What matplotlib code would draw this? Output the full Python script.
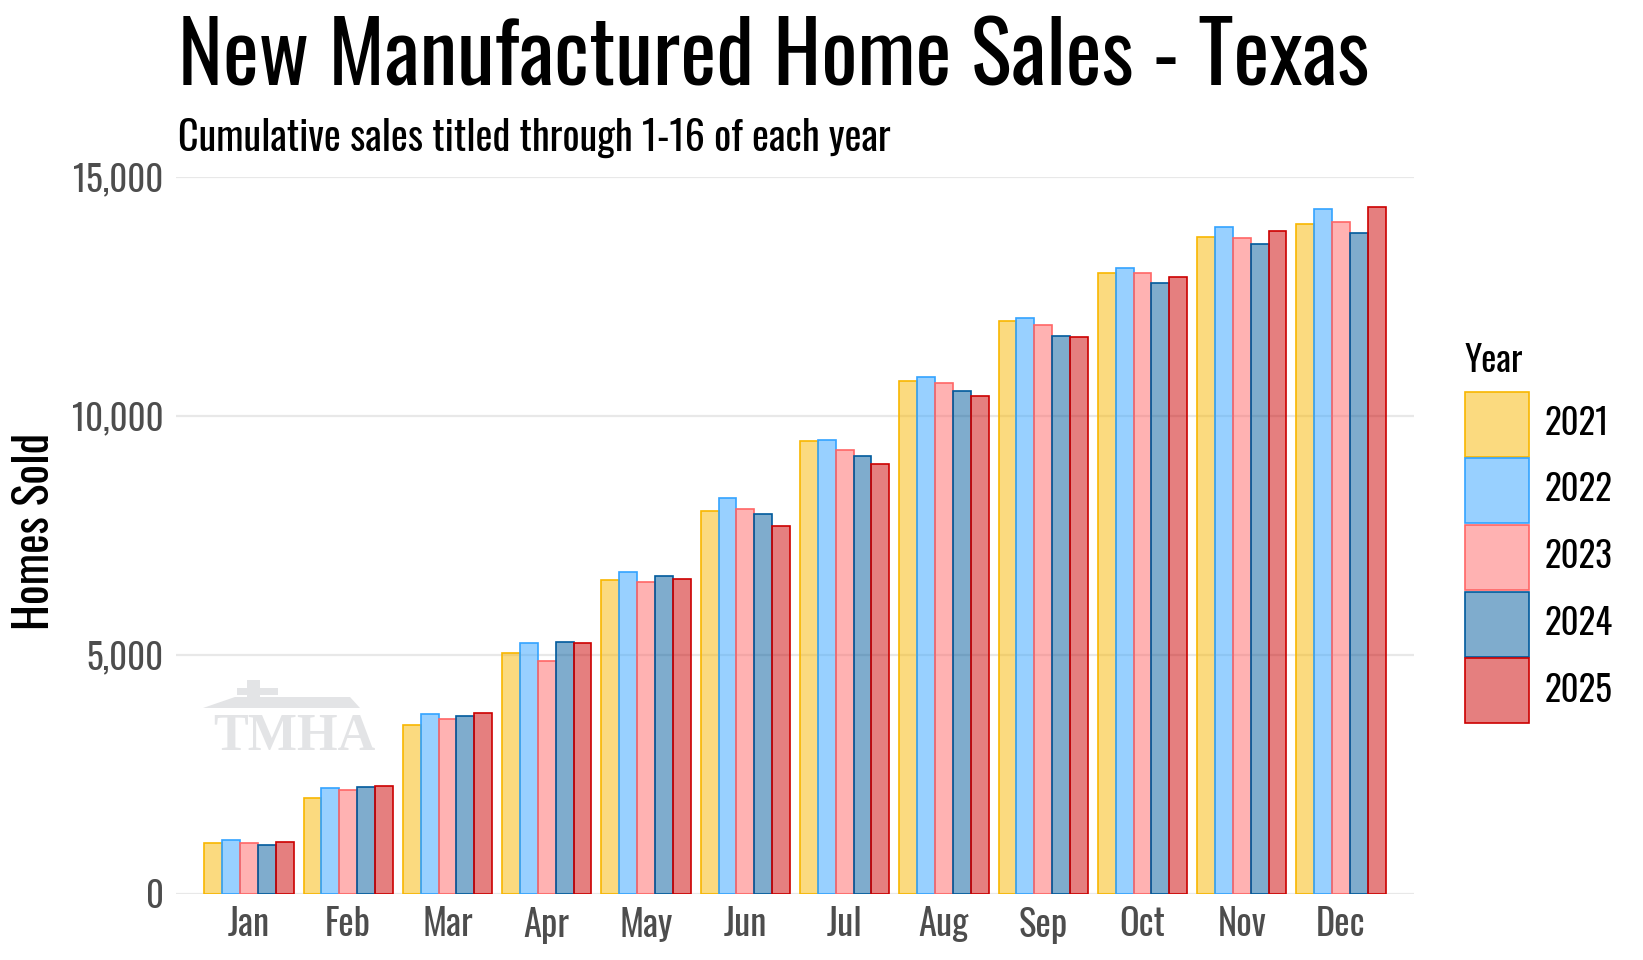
import matplotlib
matplotlib.use("Agg")
import matplotlib.pyplot as plt
import numpy as np
from matplotlib import font_manager as fm
from matplotlib.colors import to_rgba
from matplotlib.patches import Polygon
import matplotlib.transforms as mtransforms

# ---------------- data ----------------
months = ["Jan", "Feb", "Mar", "Apr", "May", "Jun",
          "Jul", "Aug", "Sep", "Oct", "Nov", "Dec"]
years = ["2021", "2022", "2023", "2024", "2025"]
sales_2021 = [1070, 2010, 3535, 5040, 6570, 8015, 9485, 10740, 11990, 13000, 13745, 14025]
sales_2022 = [1130, 2225, 3765, 5250, 6730, 8290, 9505, 10820, 12050, 13095, 13955, 14330]
sales_2023 = [1070, 2180, 3670, 4880, 6520, 8060, 9295, 10700, 11910, 13000, 13730, 14065]
sales_2024 = [1030, 2245, 3725, 5280, 6660, 7950, 9170, 10530, 11675, 12780, 13600, 13835]
sales_2025 = [1095, 2265, 3795, 5260, 6595, 7700, 9000, 10420, 11650, 12910, 13870, 14370]
series = [sales_2021, sales_2022, sales_2023, sales_2024, sales_2025]
y_ticks = [0, 5000, 10000, 15000]
y_tick_labels = ["0", "5,000", "10,000", "15,000"]

edge_colors = ["#F8B600", "#33A3FF", "#FF6666", "#005A9C", "#CC0000"]

# ---------------- fonts ----------------
available = {f.name for f in fm.fontManager.ttflist}
main_font = "DejaVu Sans"
for cand in ["Oswald", "Liberation Sans Narrow", "Roboto Condensed", "DejaVu Sans"]:
    if cand in available:
        main_font = cand
        break
serif_font = "Liberation Serif" if "Liberation Serif" in available else "DejaVu Serif"
plt.rcParams["font.family"] = [main_font, "DejaVu Sans"]

W, H = 1643, 960
fig = plt.figure(figsize=(W / 100, H / 100), dpi=100)
renderer = fig.canvas.get_renderer()

def px(x, y):
    return x / W, 1 - y / H

def fit_width(t, target):
    w = t.get_window_extent(renderer).width
    t.set_fontsize(t.get_fontsize() * target / w)

# base size measured from a tick label
probe = fig.text(0, 0, "15,000", fontsize=20)
fit_width(probe, 90)
base = probe.get_fontsize()
probe.remove()
base_px = base * 100 / 72

# ---------------- axes ----------------
left, right, top, bottom = 176, 1414, 177, 894
ax = fig.add_axes([left / W, 1 - bottom / H, (right - left) / W, (bottom - top) / H])
x = np.arange(len(months))
bw = 0.18
for i, (yr, vals, ec) in enumerate(zip(years, series, edge_colors)):
    ax.bar(x + (i - 2) * bw, vals, width=bw, facecolor=to_rgba(ec, 0.5),
           edgecolor=ec, linewidth=1.2, label=yr, zorder=3)

ax.set_xlim(-0.735, 11.735)
ax.set_ylim(0, 15000)
ax.set_yticks(y_ticks)
ax.set_yticklabels(y_tick_labels)
ax.set_xticks(x)
ax.set_xticklabels(months)
for s in ax.spines.values():
    s.set_visible(False)
ax.tick_params(axis="both", length=0, labelsize=base, labelcolor="#4D4D4D")
ax.tick_params(axis="x", labelsize=base * 1.05)
ax.tick_params(axis="y", pad=9)
ax.tick_params(axis="x", pad=9)
ax.yaxis.grid(True, color="#E8E8E8", linewidth=1.6, zorder=0)
ax.xaxis.grid(False)
ax.set_axisbelow(True)

# ---------------- titles ----------------
t = fig.text(*px(178, 85), "New Manufactured Home Sales - Texas", fontsize=60,
             ha="left", va="baseline", color="black")
fit_width(t, 1192)
st = fig.text(*px(178, 151), "Cumulative sales titled through 1-16 of each year",
              fontsize=24, ha="left", va="baseline", color="black")
fit_width(st, 712)

yl = fig.text(*px(35, 531), "Homes Sold", rotation=90, ha="center", va="center",
              fontsize=30, color="black")
h = yl.get_window_extent(renderer).height
yl.set_fontsize(yl.get_fontsize() * 197 / h)

# ---------------- legend ----------------
key_h = 65
hh = (key_h / base_px - 0.245) / 0.65
leg = fig.legend(loc="upper left", bbox_to_anchor=px(1465, 343), frameon=False,
                 fontsize=base, title="Year", title_fontsize=base * 1.03,
                 handlelength=64 / base_px, handleheight=hh,
                 labelspacing=0.05, handletextpad=0.45, borderpad=0, borderaxespad=0,
                 alignment="left")
leg._legend_box.sep = 9

# ---------------- watermark ----------------
wm = fig.text(*px(213, 750), "TMHA", fontfamily=serif_font, fontweight="bold",
              color="#E3E4E6", ha="left", va="baseline", fontsize=30, zorder=1)
fit_width(wm, 162)
pix = mtransforms.Affine2D().scale(1 / W, -1 / H).translate(0, 1) + fig.transFigure
banner = Polygon([(203, 708), (235, 697), (350, 697), (360, 708)], closed=True,
                 facecolor="#E3E4E6", edgecolor="none", transform=pix)
stem = Polygon([(247, 680), (260, 680), (260, 700), (247, 700)], closed=True,
               facecolor="#E3E4E6", edgecolor="none", transform=pix)
arm = Polygon([(237, 688), (278, 688), (278, 695), (237, 695)], closed=True,
              facecolor="#E3E4E6", edgecolor="none", transform=pix)
for p in (banner, stem, arm):
    fig.patches.append(p)

fig.savefig("out.png", dpi=100, facecolor="white")
